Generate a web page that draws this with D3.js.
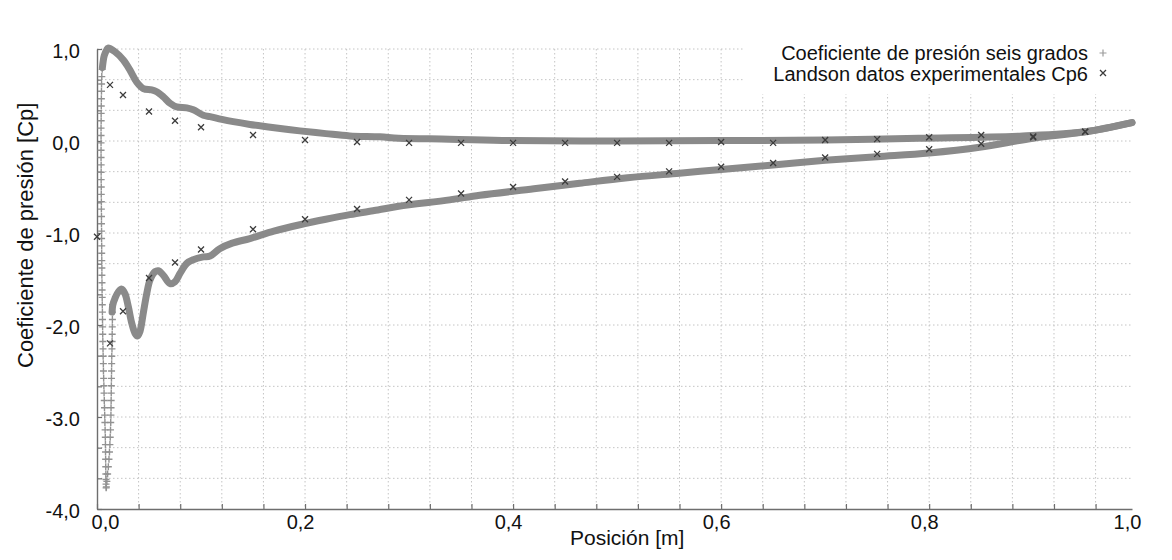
<!DOCTYPE html>
<html>
<head>
<meta charset="utf-8">
<script src="https://cdn.jsdelivr.net/npm/d3@7"></script>
<style>
  body { margin: 0; background: #fff; }
  text { font-family: "Liberation Sans", Arial, Helvetica, sans-serif; fill: #111; }
</style>
</head>
<body>
<svg id="chart" width="1172" height="560"></svg>
<script>
// pressure side (upper branch in the plot), smooth part, [x, Cp]
const pressureSide = [
  [0.0052, 0.80], [0.0070, 0.93], [0.0093, 0.99], [0.0106, 1.01], [0.0173, 0.97],
  [0.0253, 0.88], [0.0317, 0.77], [0.0382, 0.64], [0.0445, 0.57], [0.0526, 0.555],
  [0.0574, 0.535], [0.0638, 0.48], [0.0702, 0.41], [0.0766, 0.37], [0.0863, 0.36],
  [0.0926, 0.34], [0.1022, 0.28], [0.1087, 0.265], [0.12, 0.235], [0.131, 0.21],
  [0.147, 0.18], [0.163, 0.155], [0.18, 0.13], [0.195, 0.11], [0.22, 0.08],
  [0.243, 0.055], [0.272, 0.045], [0.29, 0.03], [0.339, 0.02], [0.4, 0.005],
  [0.5, 0.0], [0.6, 0.005], [0.7, 0.01], [0.79, 0.03], [0.89, 0.055],
  [0.95, 0.10], [0.995, 0.20]
];

// suction side (lower branch in the plot), smooth part
const suctionSide = [
  [0.0145, -1.86], [0.0152, -1.78], [0.0173, -1.71], [0.0205, -1.64], [0.0238, -1.61], [0.0269, -1.66],
  [0.0301, -1.80], [0.0334, -1.98], [0.0365, -2.09], [0.0388, -2.12], [0.0413, -2.07],
  [0.0445, -1.87], [0.0478, -1.66], [0.051, -1.51], [0.0558, -1.42], [0.0589, -1.41],
  [0.0638, -1.46], [0.0702, -1.55], [0.075, -1.53], [0.0798, -1.44], [0.0863, -1.33],
  [0.0926, -1.29], [0.1022, -1.26], [0.1087, -1.25], [0.118, -1.17], [0.13, -1.11],
  [0.147, -1.06], [0.17, -0.98], [0.195, -0.91], [0.22, -0.85], [0.243, -0.80],
  [0.27, -0.75], [0.29, -0.71], [0.339, -0.64], [0.368, -0.59], [0.42, -0.52],
  [0.464, -0.46], [0.51, -0.40], [0.56, -0.35], [0.6, -0.31], [0.65, -0.26],
  [0.7, -0.21], [0.75, -0.17], [0.8, -0.13], [0.85, -0.065], [0.9, 0.03],
  [0.95, 0.10], [0.995, 0.20]
];

// leading edge points, drawn as separate "+" markers
const noseFront = [
  [0.0050, 0.78], [0.0046, 0.70], [0.0044, 0.62], [0.0043, 0.54], [0.0042, 0.46],
  [0.0041, 0.38], [0.0040, 0.30], [0.0040, 0.22], [0.0039, 0.14], [0.0039, 0.06],
  [0.0039, -0.02], [0.0039, -0.10], [0.0039, -0.18], [0.0040, -0.26], [0.0040, -0.34],
  [0.0040, -0.42], [0.0041, -0.50], [0.0041, -0.58], [0.0042, -0.66], [0.0042, -0.74],
  [0.0043, -0.82], [0.0043, -0.90], [0.0044, -0.98], [0.0044, -1.06], [0.0045, -1.14],
  [0.0045, -1.22], [0.0046, -1.30], [0.0047, -1.38], [0.0047, -1.46], [0.0048, -1.54],
  [0.0049, -1.62], [0.0050, -1.70], [0.0051, -1.78], [0.0052, -1.86], [0.0053, -1.94],
  [0.0054, -2.02], [0.0055, -2.10], [0.0056, -2.18], [0.0058, -2.26], [0.0059, -2.34],
  [0.0061, -2.42], [0.0062, -2.50], [0.0064, -2.58], [0.0066, -2.66], [0.0068, -2.74],
  [0.0070, -2.82], [0.0072, -2.90], [0.0074, -2.98], [0.0076, -3.06], [0.0078, -3.14],
  [0.0080, -3.22], [0.0081, -3.30], [0.0082, -3.38], [0.0083, -3.46], [0.0084, -3.54],
  [0.0085, -3.62], [0.0086, -3.68], [0.0087, -3.73], [0.0088, -3.77]
];
const noseBack = [
  [0.0150, -1.78], [0.0149, -1.86], [0.0148, -1.94], [0.0147, -2.02], [0.0146, -2.10],
  [0.0145, -2.18], [0.0144, -2.26], [0.0142, -2.34], [0.0141, -2.42], [0.0140, -2.50],
  [0.0139, -2.58], [0.0138, -2.66], [0.0137, -2.74], [0.0136, -2.82], [0.0135, -2.90],
  [0.0134, -2.98], [0.0132, -3.06], [0.0130, -3.14], [0.0127, -3.22], [0.0124, -3.30],
  [0.0120, -3.38], [0.0115, -3.46], [0.0109, -3.54], [0.0102, -3.62], [0.0095, -3.70],
  [0.0090, -3.76]
];

// Landson experimental data
const expX = [0.0125, 0.025, 0.05, 0.075, 0.1, 0.15, 0.2, 0.25, 0.3, 0.35, 0.4, 0.45,
  0.5, 0.55, 0.6, 0.65, 0.7, 0.75, 0.8, 0.85, 0.9, 0.95];
const expUpper = [0.61, 0.50, 0.32, 0.22, 0.15, 0.065, 0.01, -0.01, -0.02, -0.02, -0.02, -0.02,
  -0.02, -0.02, -0.01, -0.02, 0.01, 0.02, 0.04, 0.065, 0.05, 0.10];
const expLower = [-2.20, -1.85, -1.49, -1.32, -1.18, -0.96, -0.85, -0.74, -0.64, -0.57, -0.50, -0.44,
  -0.39, -0.33, -0.28, -0.24, -0.18, -0.14, -0.09, -0.03, 0.04, 0.10];
const expLeadingEdge = [[0.0, -1.04]];

const xTickVals = [0, 0.2, 0.4, 0.6, 0.8, 0.995];
const xTickLabels = ["0,0", "0,2", "0,4", "0,6", "0,8", "1,0"];
const yTickVals = [1, 0, -1, -2, -3, -4];
const yTickLabels = ["1,0", "0,0", "-1,0", "-2,0", "-3.0", "-4,0"];
const legendLabels = ["Coeficiente de presión seis grados", "Landson datos experimentales Cp6"];

const svg = d3.select("#chart");
svg.append("rect").attr("width", 1172).attr("height", 560).attr("fill", "#fff");

const x = d3.scaleLinear().domain([0, 0.995]).range([97, 1132]);
const y = d3.scaleLinear().domain([-4, 1]).range([509, 49]);

const xGrid = d3.range(0, 0.97, 0.04);
const yGrid = d3.range(0, 16).map(i => -4 + i / 3);

// grid
const grid = svg.append("g")
  .attr("stroke", "#c4c4c4")
  .attr("stroke-width", 1)
  .attr("stroke-dasharray", "1.5,2.5");
grid.selectAll("line.v").data(xGrid.slice(1)).join("line")
  .attr("class", "v")
  .attr("x1", d => x(d)).attr("x2", d => x(d))
  .attr("y1", y(1)).attr("y2", y(-4));
grid.selectAll("line.h").data(yGrid.slice(1)).join("line")
  .attr("class", "h")
  .attr("x1", x(0)).attr("x2", x(0.995))
  .attr("y1", d => y(d)).attr("y2", d => y(d));

// axes with inward ticks
const gx = svg.append("g").attr("transform", `translate(0,${y(-4)})`)
  .call(d3.axisBottom(x).tickValues(xGrid).tickSizeInner(-5).tickSizeOuter(0).tickFormat(""));
const gy = svg.append("g").attr("transform", `translate(${x(0)},0)`)
  .call(d3.axisLeft(y).tickValues(yGrid).tickSizeInner(-5).tickSizeOuter(0).tickFormat(""));
[gx, gy].forEach(g => {
  g.select(".domain").attr("stroke", "#6e6e6e").attr("stroke-width", 1.4);
  g.selectAll(".tick line").attr("stroke", "#6e6e6e").attr("stroke-width", 1.2);
});

// tick labels
const lx = svg.append("g").attr("transform", `translate(0,${y(-4)})`)
  .call(d3.axisBottom(x).tickValues(xTickVals).tickSize(0).tickPadding(6)
    .tickFormat((d, i) => xTickLabels[i]));
const ly = svg.append("g").attr("transform", `translate(${x(0)},0)`)
  .call(d3.axisLeft(y).tickValues(yTickVals).tickSize(0).tickPadding(17)
    .tickFormat((d, i) => yTickLabels[i]));
[lx, ly].forEach(g => {
  g.select(".domain").remove();
  g.attr("font-family", null).attr("font-size", null);
  g.selectAll("text").attr("font-size", 20).attr("fill", "#111");
});
lx.selectAll("text").attr("dx", (d, i) => i === 0 ? 8 : -5);
ly.selectAll("text").attr("dy", "0.42em");

// Cp curve: dense "+" points drawn as a thick band
const line = d3.line()
  .x(d => x(d[0]))
  .y(d => y(d[1]))
  .curve(d3.curveCatmullRom.alpha(0.5));

const plus = "M-3.5,0H3.5M0,-3.5V3.5";
const cross = "M-3,-3L3,3M-3,3L3,-3";

svg.append("g").selectAll("path")
  .data(noseFront.concat(noseBack))
  .join("path")
  .attr("d", plus)
  .attr("transform", d => `translate(${x(d[0])},${y(d[1])})`)
  .attr("fill", "none")
  .attr("stroke", "#929292")
  .attr("stroke-width", 1.4);

svg.append("g").selectAll("path")
  .data([pressureSide, suctionSide])
  .join("path")
  .attr("d", line)
  .attr("fill", "none")
  .attr("stroke", "#8a8a8a")
  .attr("stroke-width", 7)
  .attr("stroke-linecap", "round")
  .attr("stroke-linejoin", "round");

// experimental points
const expPts = expLeadingEdge
  .concat(expX.map((v, i) => [v, expUpper[i]]))
  .concat(expX.map((v, i) => [v, expLower[i]]));
svg.append("g").selectAll("path")
  .data(expPts)
  .join("path")
  .attr("d", cross)
  .attr("transform", d => `translate(${x(d[0])},${y(d[1])})`)
  .attr("fill", "none")
  .attr("stroke", "#3c3c3c")
  .attr("stroke-width", 1.3);

// legend
const leg = svg.append("g");
leg.append("rect").attr("x", 745).attr("y", 38).attr("width", 392).attr("height", 56).attr("fill", "#fff");
leg.selectAll("text").data(legendLabels).join("text")
  .attr("x", 1088)
  .attr("y", (d, i) => 60 + i * 21)
  .attr("text-anchor", "end")
  .attr("font-size", 20)
  .text(d => d);
leg.append("path").attr("d", plus).attr("transform", "translate(1103,53)")
  .attr("stroke", "#9c9c9c").attr("stroke-width", 1.2).attr("fill", "none");
leg.append("path").attr("d", cross).attr("transform", "translate(1103,73)")
  .attr("stroke", "#3c3c3c").attr("stroke-width", 1.3).attr("fill", "none");

// axis titles
svg.append("text")
  .attr("x", 570).attr("y", 545)
  .attr("font-size", 21)
  .text("Posición [m]");
svg.append("text")
  .attr("transform", "translate(33,368) rotate(-90)")
  .attr("font-size", 22)
  .text("Coeficiente de presión [Cp]");
</script>
</body>
</html>
